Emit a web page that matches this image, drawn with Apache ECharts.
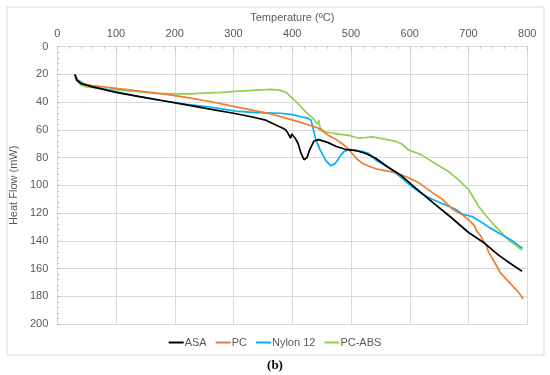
<!DOCTYPE html>
<html><head><meta charset="utf-8">
<script src="https://cdn.jsdelivr.net/npm/echarts@6/dist/echarts.min.js"></script>
<style>html,body{margin:0;padding:0;background:#fff}#c{width:550px;height:375px}</style>
</head><body><div id="c"></div>
<script>
var seriesNames = ['ASA', 'PC', 'Nylon 12', 'PC-ABS'];
var xTickValues = [0, 100, 200, 300, 400, 500, 600, 700, 800];
var yTickValues = [0, 20, 40, 60, 80, 100, 120, 140, 160, 180, 200];

var asa = [[30,20],[33,24],[40,26.5],[60,29],[80,31],[100,33],[140,36],[180,39],[220,42],[260,45],[300,48],[330,50.5],[355,53],[372,56.5],[385,59],[389,60],[392,62],[395,63],[397,66],[399,63],[402,64],[405,66],[410,70],[415,77],[420,81.5],[425,80],[430,74],[437,68],[445,67],[460,69],[475,72],[490,74],[510,75],[525,77],[542,80.5],[560,86],[584,92.5],[610,102],[641,113],[670,123],[700,134],[725,141],[750,150],[770,156],[791,162]];
var pc = [[30,20],[35,25],[45,27],[60,28],[100,30],[140,32],[180,34],[220,36.5],[260,39.5],[300,43],[340,46.5],[364,48.5],[389,51.5],[410,54],[428,56.5],[440,58],[445,59],[452,61],[462,64],[475,67],[485,70],[491,72],[502,77],[510,81],[519,84],[530,86],[542,88],[560,89.5],[576,91],[595,94],[615,98],[641,106],[655,110],[675,118],[689,121],[703,126],[710,129],[714,133],[720,136],[725,140],[730,143],[734,148],[745,156],[754,163],[765,168],[776,173],[785,177],[793,182]];
var nylon12 = [[30,20],[35,24],[45,26.5],[55,28],[80,30.5],[112,33.6],[140,36],[180,39],[220,41.5],[260,43.5],[304,46.5],[340,47.5],[380,48],[400,49],[415,50.5],[426,51.5],[432,53],[436,60],[440,67],[448,75],[457,82],[465,85.8],[472,84.5],[477,82],[483,78],[488,75.7],[496,74],[508,75],[519,75.5],[530,77],[542,81.7],[560,86],[576,91],[590,96],[604,101],[620,106],[638,110],[660,114],[677,117],[691,121],[706,122.5],[720,126],[734,130],[750,134],[771,139],[792,145.5]];
var pcAbs = [[30,20],[33,24],[40,27.5],[50,29],[80,30.5],[112,31.5],[140,32.5],[168,33.6],[200,34],[225,34],[250,33.5],[279,33],[310,32],[340,31.3],[364,30.8],[380,31.5],[390,33],[397,36],[405,39],[414,43],[423,47],[432,50.5],[438,53],[441,52],[443,56],[445,53],[447,58],[452,60.5],[457,61.5],[479,63],[496,64],[513,66],[525,65.5],[536,65],[555,66.5],[578,68.5],[586,70],[598,74.5],[620,78],[646,85],[666,90],[683,96],[700,103],[710,110],[717,115],[728,121],[740,127],[755,133.5],[768,139.4],[780,143],[791,146.6]];

var colors = ['#000000', '#ED7D31', '#00B0F0', '#92D050'];
var dataSets = [asa, pc, nylon12, pcAbs];

var chart = echarts.init(document.getElementById('c'), null, {renderer: 'canvas'});
var axisGray = '#d9d9d9';
var labelColor = '#595959';
var font = 'Liberation Sans, Arial, sans-serif';

chart.setOption({
  animation: false,
  color: colors,
  grid: {left: 55.7, right: 22.7, top: 46.7, bottom: 51, containLabel: false},
  graphic: [
    {type: 'rect', shape: {x: 7, y: 7, width: 537, height: 348}, style: {fill: 'none', stroke: '#d9d9d9', lineWidth: 1}, silent: true, z: -1},
    {type: 'text', left: 'center', top: 359, style: {text: '(b)', font: 'bold 13px "Liberation Serif", "Times New Roman", serif', fill: '#000'}}
  ],
  legend: {
    bottom: 22, left: 'center',
    data: seriesNames,
    icon: 'rect', itemWidth: 15, itemHeight: 2, itemGap: 9,
    textStyle: {color: labelColor, fontSize: 11, fontFamily: font, padding: [0,0,0,-4]}
  },
  xAxis: {
    type: 'value', position: 'top', min: 0, max: 800, interval: 100,
    name: 'Temperature (ºC)', nameLocation: 'middle', nameGap: 23,
    nameTextStyle: {color: labelColor, fontSize: 11, fontFamily: font},
    axisLine: {show: true, lineStyle: {color: axisGray}},
    axisTick: {show: true, inside: true, length: 3, lineStyle: {color: '#bfbfbf'}},
    minorTick: {show: true, splitNumber: 5, length: 2, lineStyle: {color: '#bfbfbf'}},
    axisLabel: {color: labelColor, fontSize: 11, fontFamily: font, margin: 7,
      formatter: function (v) { return xTickValues.indexOf(v) >= 0 ? String(v) : ''; }},
    splitLine: {show: true, lineStyle: {color: axisGray}}
  },
  yAxis: {
    type: 'value', inverse: true, min: 0, max: 200, interval: 20,
    name: 'Heat Flow (mW)', nameLocation: 'middle', nameGap: 28, nameRotate: 90,
    nameTextStyle: {color: labelColor, fontSize: 11, fontFamily: font},
    axisLine: {show: true, lineStyle: {color: axisGray}},
    axisTick: {show: true, inside: true, length: 3, lineStyle: {color: '#bfbfbf'}},
    minorTick: {show: true, splitNumber: 5, length: 2, lineStyle: {color: '#bfbfbf'}},
    axisLabel: {color: labelColor, fontSize: 11, fontFamily: font, margin: 9,
      formatter: function (v) { return yTickValues.indexOf(v) >= 0 ? String(v) : ''; }},
    splitLine: {show: true, lineStyle: {color: axisGray}}
  },
  series: seriesNames.map(function (n, i) {
    return {name: n, type: 'line', data: dataSets[i], showSymbol: false, symbol: 'none',
      lineStyle: {width: 1.7, color: colors[i]}, itemStyle: {color: colors[i]}, z: 10 - i};
  })
});
</script></body></html>
